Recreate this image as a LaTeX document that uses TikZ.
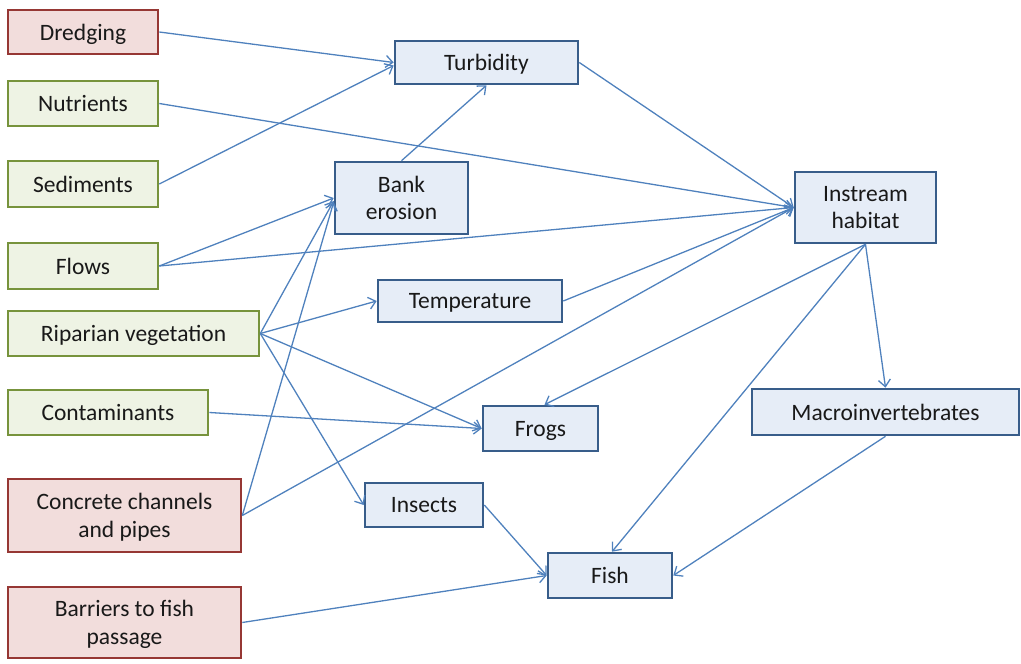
\documentclass[tikz,border=0pt]{standalone}
\usepackage{fontspec}
\setmainfont{Carlito}
\usetikzlibrary{arrows.meta}
\definecolor{linkc}{RGB}{79,129,189}
\definecolor{bluebd}{RGB}{56,93,138}
\definecolor{bluefl}{RGB}{230,237,247}
\definecolor{redbd}{RGB}{150,55,52}
\definecolor{redfl}{RGB}{242,221,220}
\definecolor{greenbd}{RGB}{119,147,60}
\definecolor{greenfl}{RGB}{238,243,228}
\newcommand{\lastline}[1]{\raisebox{0pt}[\height][0pt]{#1}}
\tikzset{
  box/.style={draw, line width=2.6pt, inner sep=2pt,
    font=\fontsize{23.5}{27.5}\selectfont, text=black!90, text depth=0pt},
  twoline/.style={align=center, text depth={}},
  redbox/.style={box, draw=redbd, fill=redfl},
  greenbox/.style={box, draw=greenbd, fill=greenfl},
  bluebox/.style={box, draw=bluebd, fill=bluefl},
  link/.style={draw=linkc, line width=1.3pt,
    -{Straight Barb[length=7pt,width=12pt,line width=1.3pt]}},
}
\begin{document}
\begin{tikzpicture}[x=1pt,y=-1pt]
\useasboundingbox (0,0) rectangle (1021,664);
% left column
\node[redbox, minimum width=150pt, minimum height=44pt] (dred) at (83,32) {Dredging};
\node[greenbox, minimum width=150pt, minimum height=45pt] (nutr) at (83,103.5) {Nutrients};
\node[greenbox, minimum width=150pt, minimum height=46pt] (sedi) at (83,184) {Sediments};
\node[greenbox, minimum width=150pt, minimum height=46pt] (flow) at (83,266) {Flows};
\node[greenbox, minimum width=251pt, minimum height=45pt] (ripa) at (133.5,333.5) {Riparian vegetation};
\node[greenbox, minimum width=200pt, minimum height=45pt] (cont) at (108,412.5) {Contaminants};
\node[redbox, twoline, minimum width=233pt, minimum height=73pt] (conc) at (124.5,515.5) {Concrete channels\\\lastline{and pipes}};
\node[redbox, twoline, minimum width=233pt, minimum height=71pt] (barr) at (124.5,622.5) {Barriers to fish\\\lastline{passage}};
% blue nodes
\node[bluebox, minimum width=183pt, minimum height=43pt] (turb) at (486.5,62.5) {Turbidity};
\node[bluebox, twoline, minimum width=133pt, minimum height=72pt] (bank) at (401.5,198) {Bank\\\lastline{erosion}};
\node[bluebox, twoline, minimum width=141pt, minimum height=71pt] (inst) at (865.5,207.5) {Instream\\\lastline{habitat}};
\node[bluebox, minimum width=184pt, minimum height=42pt] (temp) at (470,301) {Temperature};
\node[bluebox, minimum width=115pt, minimum height=45pt] (frog) at (540.5,428.5) {Frogs};
\node[bluebox, minimum width=267pt, minimum height=46pt] (macr) at (885.5,412) {Macroinvertebrates};
\node[bluebox, minimum width=118pt, minimum height=44pt] (inse) at (424,505) {Insects};
\node[bluebox, minimum width=124pt, minimum height=45pt] (fish) at (610,575.5) {Fish};
% links
\draw[link] (dred.east) -- (turb.west);
\draw[link] (sedi.east) -- ([yshift=-3pt]turb.west);
\draw[link] (nutr.east) -- (inst.west);
\draw[link] (bank.north) -- (turb.south);
\draw[link] (turb.east) -- (inst.west);
\draw[link] (flow.east) -- (bank.west);
\draw[link] (flow.east) -- (inst.west);
\draw[link] (ripa.east) -- ([yshift=-3pt]bank.west);
\draw[link] (ripa.east) -- (temp.west);
\draw[link] (ripa.east) -- (frog.west);
\draw[link] (ripa.east) -- (inse.west);
\draw[link] (cont.east) -- (frog.west);
\draw[link] (conc.east) -- ([yshift=-4pt]bank.west);
\draw[link] (conc.east) -- (inst.west);
\draw[link] (temp.east) -- (inst.west);
\draw[link] (inst.south) -- ([xshift=4pt]frog.north);
\draw[link] (inst.south) -- (macr.north);
\draw[link] (inst.south) -- ([xshift=2pt]fish.north);
\draw[link] (macr.south) -- (fish.east);
\draw[link] (inse.east) -- (fish.west);
\draw[link] (barr.east) -- (fish.west);
\end{tikzpicture}
\end{document}
